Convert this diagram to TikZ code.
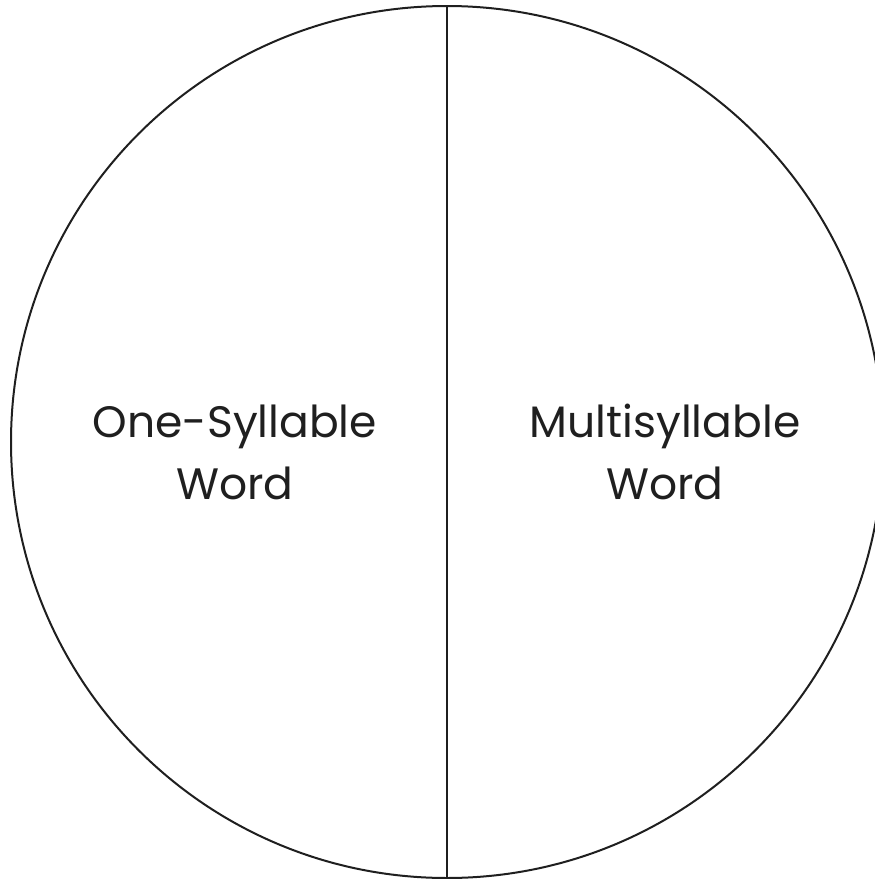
\documentclass[tikz,border=0pt]{standalone}
\usepackage{fontspec}
\setmainfont{Poppins}
\tikzset{
  outline/.style={line width=2pt, draw=black!88},
  label/.style={align=center, font=\fontsize{44}{62}\selectfont, text=black!88, inner sep=0pt}
}
\begin{document}
\begin{tikzpicture}[x=1pt,y=-1pt]
\useasboundingbox (0,0) rectangle (875,879);
\begin{scope}
\clip (0,0) rectangle (875,879);
\node[outline, circle, minimum size=872pt, inner sep=0pt] (c) at (447,442) {};
\end{scope}
\draw[outline] (c.north) -- (c.south);
\node[label, anchor=base] (l1) at (235,437) {One-Syllable};
\node[label, anchor=base] (l2) at (235,499) {Word};
\node[label, anchor=base] (r1) at (665,437) {Multisyllable};
\node[label, anchor=base] (r2) at (665,499) {Word};
\end{tikzpicture}
\end{document}
